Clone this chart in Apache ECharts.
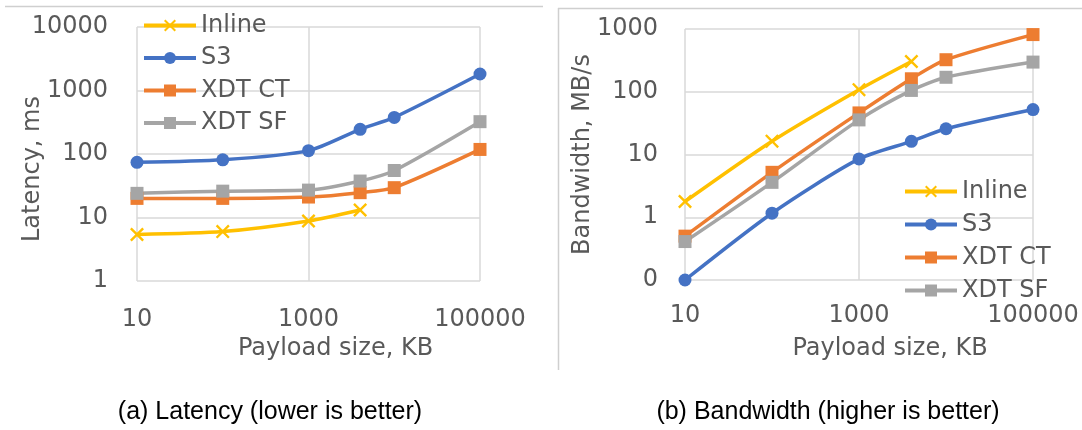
<!DOCTYPE html>
<html>
<head>
<meta charset="utf-8">
<script src="https://cdn.jsdelivr.net/npm/echarts@6/dist/echarts.min.js"></script>
<style>
  html, body { margin: 0; padding: 0; background: #fff; }
  #chart { width: 1082px; height: 430px; }
</style>
</head>
<body>
<div id="chart"></div>
<script>
// Payload sizes (KB) on the x axis
const payloadKB = [10, 100, 1000, 4000, 10000, 100000];
const seriesNames = ['Inline', 'S3', 'XDT CT', 'XDT SF'];

// Latency, ms
const inlineLatency = [5.4, 6.0, 8.8, 13.1];
const s3Latency = [74, 81, 113, 245, 377, 1820];
const xdtCtLatency = [20, 20, 21, 24.6, 29.5, 118];
const xdtSfLatency = [24, 26, 27, 37.5, 55, 323];

// Bandwidth, MB/s
const inlineBandwidth = [1.78, 16.3, 108, 304];
const s3Bandwidth = [0.1, 1.16, 8.5, 16.2, 25.7, 52];
const xdtCtBandwidth = [0.5, 5.2, 46, 161, 324, 815];
const xdtSfBandwidth = [0.41, 3.6, 35.6, 105, 170, 297];

// Axis tick values
const xTicks = [10, 1000, 100000];
const latencyTicks = [1, 10, 100, 1000, 10000];
const bandwidthTicks = [0.1, 1, 10, 100, 1000];

const colors = { 'Inline': '#FFC000', 'S3': '#4472C4', 'XDT CT': '#ED7D31', 'XDT SF': '#A5A5A5' };
const crossPath = 'path://M0,1.2L1.2,0L5,3.8L8.8,0L10,1.2L6.2,5L10,8.8L8.8,10L5,6.2L1.2,10L0,8.8L3.8,5Z';
const symbols = {
  'Inline': { symbol: crossPath, size: 14 },
  'S3': { symbol: 'circle', size: 13 },
  'XDT CT': { symbol: 'rect', size: 13 },
  'XDT SF': { symbol: 'rect', size: 13 }
};

const FONT = '"DejaVu Sans", "Open Sans", sans-serif';
const GREY_TEXT = '#595959';
const GRID_LINE = '#d9d9d9';

function pairs(values) {
  return values.map((v, i) => [payloadKB[i], v]);
}

function makeSeries(name, values, idx) {
  return {
    name: name,
    type: 'line',
    xAxisIndex: idx,
    yAxisIndex: idx,
    data: pairs(values),
    smooth: 0.25,
    clip: false,
    symbol: symbols[name].symbol,
    symbolSize: symbols[name].size,
    showAllSymbol: true,
    lineStyle: { color: colors[name], width: 3.5 },
    itemStyle: { color: colors[name], borderWidth: 0 },
    emphasis: { disabled: true },
    animation: false
  };
}

function xAxis(idx, labelMargin, nameGap, namePadLeft) {
  return {
    type: 'log', logBase: 10, gridIndex: idx,
    min: xTicks[0], max: xTicks[xTicks.length - 1], interval: 2,
    name: 'Payload size, KB', nameLocation: 'middle', nameGap: nameGap,
    nameMoveOverlap: false,
    nameTextStyle: { fontFamily: FONT, fontSize: 24, color: GREY_TEXT, padding: [0, 0, 0, namePadLeft] },
    axisLine: { show: false }, axisTick: { show: false },
    axisLabel: {
      margin: labelMargin, fontFamily: FONT, fontSize: 24, color: GREY_TEXT,
      formatter: v => String(Math.round(v))
    },
    splitLine: { show: true, lineStyle: { color: GRID_LINE, width: 1.5 } }
  };
}

function yAxis(idx, ticks, name, nameGap, namePad, labelMargin) {
  return {
    type: 'log', logBase: 10, gridIndex: idx,
    min: ticks[0], max: ticks[ticks.length - 1],
    name: name, nameLocation: 'middle', nameGap: nameGap,
    nameMoveOverlap: false,
    nameTextStyle: { fontFamily: FONT, fontSize: 24, color: GREY_TEXT, padding: namePad },
    axisLine: { show: false }, axisTick: { show: false },
    axisLabel: {
      margin: labelMargin, fontFamily: FONT, fontSize: 24, color: GREY_TEXT,
      formatter: v => String(Math.round(v))
    },
    splitLine: { show: true, lineStyle: { color: GRID_LINE, width: 1.5 } }
  };
}

function legend(left, top, gap) {
  return {
    orient: 'vertical', left: left, top: top,
    itemWidth: 52, itemHeight: 15, itemGap: gap,
    data: seriesNames,
    selectedMode: false,
    lineStyle: { width: 4 },
    textStyle: { fontFamily: FONT, fontSize: 24, color: GREY_TEXT, lineHeight: 25 }
  };
}

const chart = echarts.init(document.getElementById('chart'), null, { renderer: 'canvas' });

chart.setOption({
  backgroundColor: '#ffffff',
  animation: false,
  grid: [
    { left: 137, top: 27, width: 343, height: 254, containLabel: false },
    { left: 685, top: 29, width: 348, height: 251, containLabel: false }
  ],
  xAxis: [
    xAxis(0, 27, 56, 54),
    xAxis(1, 24, 57, 62)
  ],
  yAxis: [
    yAxis(0, latencyTicks, 'Latency, ms', 92, [0, 30, 0, 0], 29),
    yAxis(1, bandwidthTicks, 'Bandwidth, MB/s', 90, [0, 0, 0, 0], 27)
  ],
  legend: [
    legend(137, 8, 7.5),
    legend(898, 174, 8)
  ],
  series: [
    makeSeries('Inline', inlineLatency, 0),
    makeSeries('S3', s3Latency, 0),
    makeSeries('XDT CT', xdtCtLatency, 0),
    makeSeries('XDT SF', xdtSfLatency, 0),
    makeSeries('Inline', inlineBandwidth, 1),
    makeSeries('S3', s3Bandwidth, 1),
    makeSeries('XDT CT', xdtCtBandwidth, 1),
    makeSeries('XDT SF', xdtSfBandwidth, 1)
  ],
  graphic: [
    // panel frames
    { type: 'line', shape: { x1: 5, y1: 6.5, x2: 543, y2: 6.5 }, style: { stroke: '#cfcfcf', lineWidth: 1.5 } },
    { type: 'line', shape: { x1: 558, y1: 8.5, x2: 1082, y2: 8.5 }, style: { stroke: '#cfcfcf', lineWidth: 1.5 } },
    { type: 'line', shape: { x1: 558.5, y1: 8, x2: 558.5, y2: 370 }, style: { stroke: '#cfcfcf', lineWidth: 1.5 } },
    // sub-figure captions
    { type: 'text', position: [270, 412], style: { text: '(a) Latency (lower is better)', x: 0, y: 0, align: 'center', verticalAlign: 'middle', fontFamily: '"Liberation Sans", Arial, sans-serif', fontSize: 25, fill: '#000' } },
    { type: 'text', position: [828, 412], style: { text: '(b) Bandwidth (higher is better)', x: 0, y: 0, align: 'center', verticalAlign: 'middle', fontFamily: '"Liberation Sans", Arial, sans-serif', fontSize: 25, fill: '#000' } }
  ]
});
</script>
</body>
</html>
